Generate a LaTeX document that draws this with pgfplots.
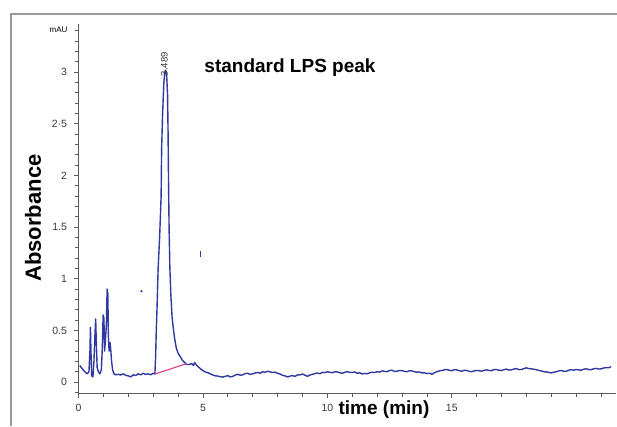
\documentclass[border=0pt]{standalone}
\usepackage{pgfplots}
\pgfplotsset{compat=1.18}
\usepackage{fontspec}
\setmainfont{Liberation Sans}
\definecolor{trace}{RGB}{48,58,158}
\definecolor{basel}{RGB}{222,62,140}
\definecolor{axgray}{RGB}{90,90,90}
\definecolor{lblgray}{RGB}{55,55,55}
\begin{document}
\begin{tikzpicture}[x=1pt,y=1pt]
\path[use as bounding box] (-78.5,-33) rectangle (538.5,393);
\draw[color=gray!80,line width=1.2pt] (-67.5,-33) -- (-67.5,379) -- (538.5,379);
\begin{axis}[at={(0,0)},anchor=south west,scale only axis,
 width=537.5pt,height=369pt,
 xmin=0,xmax=21.6,ymin=-0.106,ymax=3.466,
 axis lines=left,axis line style={-,color=axgray,line width=0.8pt},
 tick align=outside,
 xtick={0,5,10,15},minor xtick={1,2,3,4,6,7,8,9,11,12,13,14,16,17,18,19,20,21},
 ytick={0,0.5,1,1.5,2,2.5,3},yticklabels={0,0.5,1,1.5,2,2·5,3},
 minor ytick={-0.1,0.1,0.2,0.3,0.4,0.6,0.7,0.8,0.9,1.1,1.2,1.3,1.4,1.6,1.7,1.8,1.9,2.1,2.2,2.3,2.4,2.6,2.7,2.8,2.9,3.1,3.2,3.3,3.4},
 major tick length=5pt,minor tick length=3.5pt,
 every tick/.style={color=axgray,line width=0.7pt},
 tick label style={font=\fontsize{10.5}{12}\selectfont,color=lblgray},
 /pgf/number format/assume math mode=true,
 xticklabel style={yshift=-3pt},yticklabel style={xshift=-3pt},
 clip=false]
\addplot[color=trace,line width=1.4pt,line join=round] coordinates {
(0.05,0.16)(0.15,0.13)(0.25,0.10)(0.35,0.08)(0.42,0.10)(0.46,0.30)(0.48,0.53)(0.50,0.30)(0.53,0.06)(0.58,0.05)
(0.62,0.20)(0.66,0.45)(0.69,0.61)(0.72,0.35)(0.75,0.14)(0.80,0.10)(0.86,0.08)(0.92,0.12)(0.96,0.35)(0.99,0.65)
(1.02,0.62)(1.05,0.30)(1.08,0.40)(1.12,0.55)(1.15,0.90)(1.18,0.85)(1.20,0.45)(1.23,0.30)(1.27,0.38)(1.30,0.30)
(1.33,0.20)(1.37,0.12)(1.42,0.08)(1.5,0.07)(1.6,0.075)(1.7,0.068)(1.8,0.08)(1.9,0.065)(2.0,0.06)(2.1,0.05)
(2.2,0.07)(2.3,0.063)(2.4,0.08)(2.5,0.07)(2.6,0.085)(2.7,0.074)(2.8,0.08)(2.9,0.07)(3.0,0.085)(3.07,0.078)
(3.10,0.25)(3.12,0.45)(3.16,0.75)(3.2,1.1)(3.26,1.4)(3.32,1.8)(3.34,2.25)(3.38,2.6)(3.43,2.9)(3.47,3.0)
(3.5,3.02)(3.54,2.98)(3.58,2.78)(3.6,2.4)(3.62,1.9)(3.64,1.5)(3.67,1.12)(3.71,0.85)(3.76,0.63)(3.82,0.5)
(3.87,0.41)(3.93,0.33)(4.0,0.28)(4.1,0.24)(4.18,0.21)(4.26,0.19)(4.34,0.17)(4.45,0.17)(4.55,0.18)(4.62,0.16)
(4.67,0.19)(4.72,0.17)(4.8,0.15)(4.87,0.135)(4.95,0.12)(5.07,0.10)(5.2,0.09)(5.3,0.08)
(5.4,0.068)(5.5,0.06)(5.6,0.058)(5.7,0.052)(5.8,0.048)(5.9,0.056)(6.0,0.062)(6.1,0.05)(6.2,0.055)(6.3,0.068)(6.4,0.075)(6.5,0.066)(6.6,0.07)(6.7,0.082)(6.8,0.085)(6.9,0.074)(7.0,0.08)(7.1,0.088)(7.2,0.092)
(7.3,0.085)(7.4,0.1)(7.5,0.094)(7.6,0.105)(7.7,0.098)(7.8,0.092)(7.9,0.096)(8.0,0.085)(8.1,0.078)(8.2,0.065)(8.3,0.06)(8.4,0.048)(8.5,0.058)(8.6,0.062)(8.7,0.055)(8.8,0.07)(8.9,0.068)(9.0,0.078)(9.1,0.066)(9.2,0.056)
(9.3,0.068)(9.4,0.075)(9.5,0.082)(9.6,0.088)(9.7,0.08)(9.8,0.095)(9.9,0.09)(10.0,0.1)(10.1,0.094)(10.2,0.09)(10.3,0.1)(10.4,0.098)(10.5,0.09)(10.6,0.085)(10.7,0.095)(10.8,0.1)(10.9,0.094)(11.0,0.092)(11.1,0.098)(11.2,0.085)
(11.3,0.09)(11.4,0.078)(11.5,0.084)(11.6,0.08)(11.7,0.09)(11.8,0.095)(11.9,0.092)(12.0,0.1)(12.1,0.096)(12.2,0.108)(12.3,0.104)(12.4,0.1)(12.5,0.112)(12.6,0.115)(12.7,0.102)(12.8,0.105)(12.9,0.112)(13.0,0.11)(13.1,0.104)(13.2,0.1)
(13.3,0.11)(13.4,0.108)(13.5,0.1)(13.6,0.095)(13.7,0.098)(13.8,0.088)(13.9,0.09)(14.0,0.082)(14.1,0.086)(14.2,0.075)(14.3,0.09)(14.4,0.1)(14.5,0.108)(14.6,0.112)(14.7,0.118)(14.8,0.122)(14.9,0.114)(15.0,0.11)(15.1,0.12)(15.2,0.118)
(15.3,0.11)(15.4,0.105)(15.5,0.114)(15.6,0.112)(15.7,0.104)(15.8,0.1)(15.9,0.108)(16.0,0.112)(16.1,0.11)(16.2,0.105)(16.3,0.114)(16.4,0.118)(16.5,0.112)(16.6,0.11)(16.7,0.122)(16.8,0.12)(16.9,0.114)(17.0,0.112)(17.1,0.12)(17.2,0.125)
(17.3,0.116)(17.4,0.118)(17.5,0.126)(17.6,0.13)(17.7,0.12)(17.8,0.122)(17.9,0.13)(18.0,0.138)(18.1,0.13)(18.2,0.128)(18.3,0.124)(18.4,0.12)(18.5,0.112)(18.6,0.108)(18.7,0.1)(18.8,0.098)(18.9,0.094)(19.0,0.088)(19.1,0.095)(19.2,0.1)
(19.3,0.108)(19.4,0.112)(19.5,0.104)(19.6,0.105)(19.7,0.114)(19.8,0.12)(19.9,0.115)(20.0,0.122)(20.1,0.118)(20.2,0.115)(20.3,0.124)(20.4,0.128)(20.5,0.122)(20.6,0.12)(20.7,0.128)(20.8,0.132)(20.9,0.126)(21.0,0.128)(21.1,0.136)(21.2,0.14)
(21.3,0.138)(21.4,0.148)};
% integration baseline
\addplot[color=basel,line width=1.1pt] coordinates {(3.08,0.078)(4.3,0.175)};
% stray specks
\addplot[only marks,mark=*,mark size=0.9pt,color=trace] coordinates {(2.53,0.88)};
\addplot[color=trace,line width=1.1pt] coordinates {(4.9,1.21)(4.9,1.27)};
\node[rotate=90,anchor=west,inner sep=0pt,font=\fontsize{9.5}{11}\selectfont,color=lblgray] at (axis cs:3.45,2.96) {3.489};
\end{axis}
\node[font=\fontsize{8}{9}\selectfont,color=black] at (-20,363) {mAU};
\node[rotate=90,font=\fontsize{22}{26}\selectfont\bfseries] at (-45.5,175) {Absorbance};
\node[font=\fontsize{19}{22}\selectfont\bfseries] at (211.5,325) {standard LPS peak};
\node[font=\fontsize{19}{22}\selectfont\bfseries] at (305.5,-17) {time (min)};
\end{tikzpicture}
\end{document}
